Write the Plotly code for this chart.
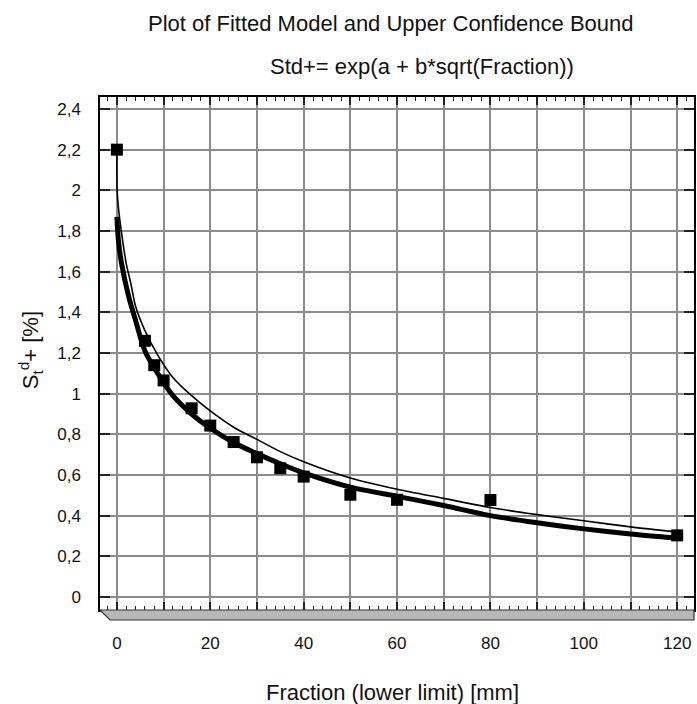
import plotly.graph_objects as go

# ---- data ----
frac_obs = [0, 6, 8, 10, 16, 20, 25, 30, 35, 40, 50, 60, 80, 120]
std_obs = [2.2, 1.26, 1.14, 1.065, 0.928, 0.843, 0.762, 0.687, 0.633, 0.592, 0.503, 0.478, 0.477, 0.303]

frac_fit = [0, 0.3, 1, 2.5, 4, 6, 9, 12, 16, 20, 25, 30, 35, 40, 50, 60, 70, 80, 90, 100, 110, 120]
std_fit = [1.87, 1.76, 1.64, 1.48, 1.36, 1.21, 1.09, 0.99, 0.90, 0.83, 0.76, 0.705, 0.655, 0.61, 0.54, 0.495, 0.45, 0.40, 0.365, 0.335, 0.31, 0.29]

frac_up = [0, 0.05, 0.3, 1, 2, 3, 4, 6, 9, 12, 16, 20, 25, 30, 35, 40, 50, 60, 70, 80, 90, 100, 110, 120]
std_up = [2.2, 2.0, 1.92, 1.79, 1.64, 1.54, 1.43, 1.31, 1.18, 1.08, 0.99, 0.915, 0.835, 0.775, 0.715, 0.665, 0.585, 0.53, 0.485, 0.44, 0.405, 0.375, 0.345, 0.32]

x_tickvals = [0, 10, 20, 30, 40, 50, 60, 70, 80, 90, 100, 110, 120]
x_ticktext = ["0", "", "20", "", "40", "", "60", "", "80", "", "100", "", "120"]
y_tickvals = [0, 0.2, 0.4, 0.6, 0.8, 1.0, 1.2, 1.4, 1.6, 1.8, 2.0, 2.2, 2.4]
y_ticktext = ["0", "0,2", "0,4", "0,6", "0,8", "1", "1,2", "1,4", "1,6", "1,8", "2", "2,2", "2,4"]

FONT = "Liberation Sans, Arial, sans-serif"
INK = "#111111"

fig = go.Figure()
fig.add_trace(go.Scatter(x=frac_fit, y=std_fit, mode="lines",
                         line=dict(color="black", width=5, shape="spline", smoothing=0.8),
                         showlegend=False))
fig.add_trace(go.Scatter(x=frac_up, y=std_up, mode="lines",
                         line=dict(color="black", width=1.6, shape="spline", smoothing=0.8),
                         showlegend=False))
fig.add_trace(go.Scatter(x=frac_obs, y=std_obs, mode="markers",
                         marker=dict(symbol="square", size=12, color="black"),
                         showlegend=False))

fig.update_layout(
    width=697, height=704,
    margin=dict(l=100, r=1, t=97, b=94),
    paper_bgcolor="white", plot_bgcolor="white",
    font=dict(family=FONT, size=17, color=INK),
    separators=",.",
    showlegend=False,
)

fig.update_xaxes(
    range=[-3.62, 123.6], tickvals=x_tickvals, ticktext=x_ticktext,
    showgrid=True, gridcolor="#8c8c8c", gridwidth=1.6, zeroline=False,
    showline=True, linecolor="black", linewidth=1.5, mirror="ticks",
    ticks="inside", ticklen=8, tickcolor="#222222", tickwidth=1.5,
    minor=dict(dtick=2, ticks="inside", ticklen=4, tickcolor="#222222", tickwidth=1.2, showgrid=False),
    ticklabelstandoff=17,
    tickfont=dict(size=17, family=FONT, color=INK),
)
fig.update_yaxes(
    range=[-0.064, 2.459], tickvals=y_tickvals, ticktext=y_ticktext,
    showgrid=True, gridcolor="#8c8c8c", gridwidth=1.6, zeroline=False,
    showline=True, linecolor="black", linewidth=1.5, mirror="ticks",
    ticks="inside", ticklen=10, tickcolor="#222222", tickwidth=2,
    ticklabelstandoff=14,
    tickfont=dict(size=17, family=FONT, color=INK),
)

# 3D-like floor under the plot
fig.add_shape(type="path", xref="paper", yref="paper",
              path="M 0,0 L 1,0 L 1,-0.0195 L 0.0168,-0.0195 Z",
              fillcolor="#b8b8b8", line=dict(color="#333333", width=1.2), layer="above")

fig.add_annotation(text="Plot of Fitted Model and Upper Confidence Bound",
                   xref="paper", yref="paper", x=(392 - 100) / 596, y=1 + (97 - 24) / 513,
                   xanchor="center", yanchor="middle", showarrow=False,
                   font=dict(size=22, family=FONT, color=INK))
fig.add_annotation(text="Std+= exp(a + b*sqrt(Fraction))",
                   xref="paper", yref="paper", x=(423 - 100) / 596, y=1 + (97 - 66) / 513,
                   xanchor="center", yanchor="middle", showarrow=False,
                   font=dict(size=22, family=FONT, color=INK))
fig.add_annotation(text="Fraction (lower limit) [mm]",
                   xref="paper", yref="paper", x=(393 - 100) / 596, y=-(692 - 610) / 513,
                   xanchor="center", yanchor="middle", showarrow=False,
                   font=dict(size=22, family=FONT, color=INK))
fig.add_annotation(text="S<sub>t</sub><sup>d</sup>+ [%]",
                   xref="paper", yref="paper", x=-(100 - 30) / 596, y=(610 - 350) / 513,
                   xanchor="center", yanchor="middle", showarrow=False, textangle=-90,
                   font=dict(size=22, family=FONT, color=INK))

fig.write_html("out.html", config={"displayModeBar": False},
               post_script="document.body.style.margin='0px';document.body.style.padding='0px';")
